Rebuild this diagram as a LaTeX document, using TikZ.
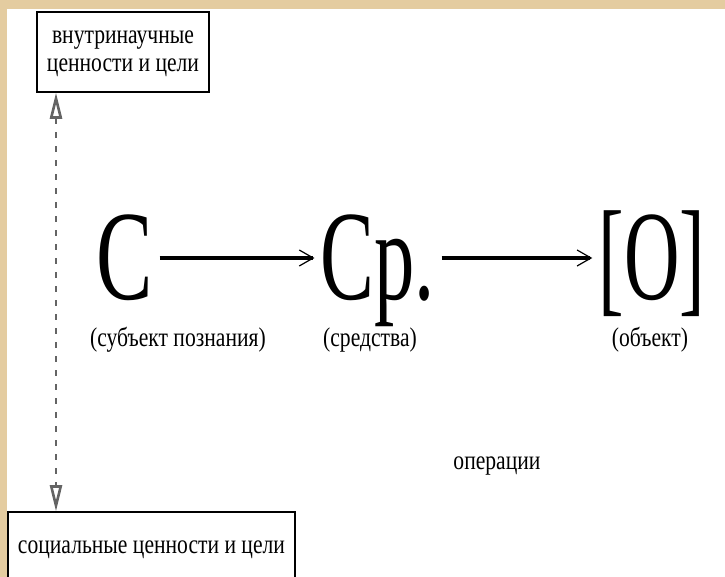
\documentclass[tikz,border=0pt]{standalone}
\usepackage{fontspec}
\setmainfont{Liberation Serif}
\usetikzlibrary{arrows.meta}
\definecolor{pagebeige}{RGB}{228,204,160}
\definecolor{linkgray}{RGB}{100,100,100}
\newcommand{\squeezed}[2][.8]{\scalebox{#1}[1]{#2}}

\begin{document}
\begin{tikzpicture}[x=.5pt,y=-.5pt,
    valuebox/.style={draw,line width=.8pt,inner sep=0pt,
      font=\fontsize{13.5}{14}\selectfont},
    caption/.style={font=\fontsize{13.5}{14}\selectfont},
    bigsign/.style={inner xsep=3pt,inner ysep=0pt,text height=42pt,text depth=0pt,
      font=\fontsize{64}{64}\selectfont},
    mainarrow/.style={line width=2pt,-{Straight Barb[length=7pt,width=8pt,line width=.6pt]}},
    valuelink/.style={linkgray,line width=1.3pt,dash pattern=on 3pt off 4pt,
      {Triangle[open,length=13pt,width=6pt]}-{Triangle[open,length=13pt,width=6pt]}}]
    \useasboundingbox (0,0) rectangle (725,577);
    \fill[pagebeige] (0,0) rectangle (725,577);
    \fill[white] (7,9) rectangle (725,577);
    \node[valuebox,minimum width=86pt,minimum height=40pt] (inner) at (123,52)
      {\squeezed{\begin{tabular}{@{}c@{}}внутринаучные\\ценности и цели\end{tabular}}};
    \node[valuebox,minimum width=143.5pt,minimum height=38pt] (social) at (151.5,550)
      {\squeezed{социальные ценности и цели}};
    \coordinate (linkx) at (56,0);
    \draw[valuelink] (inner.south -| linkx) -- (social.north -| linkx);
    \node[bigsign] (subject) at (125,258) {\squeezed[.66]{С}};
    \node[bigsign] (means) at (378,258) {\squeezed[.63]{Ср.}};
    \node[bigsign] (object) at (652,258) {\squeezed[.6]{[О]}};
    \draw[mainarrow] (subject) -- (means);
    \draw[mainarrow] (means) -- (object);
    \node[caption] (subjectlbl) at (178,340) {\squeezed{(субъект познания)}};
    \node[caption] (meanslbl) at (370,340) {\squeezed{(средства)}};
    \node[caption] (objectlbl) at (650,340) {\squeezed{(объект)}};
    \node[caption] (ops) at (497,466) {\squeezed{операции}};
  \end{tikzpicture}
\end{document}
